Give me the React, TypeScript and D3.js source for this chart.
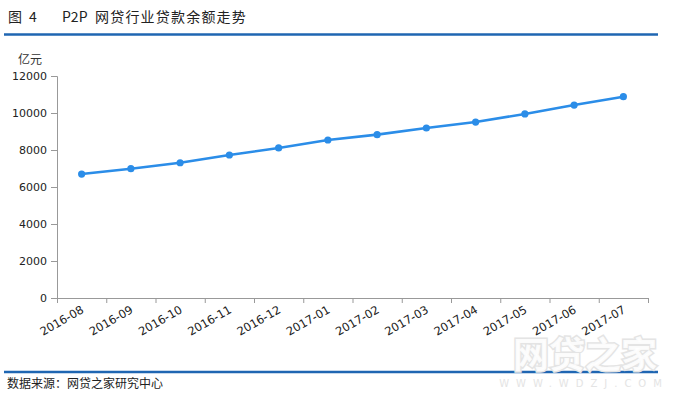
import React, { useEffect, useRef } from "react";
import * as d3 from "d3";

const months = [
  "2016-08", "2016-09", "2016-10", "2016-11", "2016-12", "2017-01",
  "2017-02", "2017-03", "2017-04", "2017-05", "2017-06", "2017-07",
];
const balance = [6700, 6990, 7310, 7730, 8110, 8540, 8830, 9190, 9510, 9950, 10430, 10880];
const yTicks = [0, 2000, 4000, 6000, 8000, 10000, 12000];

const W = 680;
const H = 398;
const plot = { left: 57, right: 648, top: 76, bottom: 298 };
const numFont = "'DejaVu Sans', Verdana, sans-serif";
const cjkFont = "'Noto Sans CJK SC', sans-serif";

const App = () => {
  const ref = useRef<SVGSVGElement | null>(null);

  useEffect(() => {
    const svg = d3.select(ref.current);
    svg.selectAll("*").remove();

    const x = d3.scaleBand().domain(months).range([plot.left, plot.right]);
    const y = d3.scaleLinear().domain([0, 12000]).range([plot.bottom, plot.top]);

    // header (pieces placed separately to keep the wide gaps)
    const title = svg.append("g")
      .attr("font-family", cjkFont).attr("font-size", 14).attr("fill", "#222");
    title.append("text").attr("x", 8).attr("y", 22).text("图");
    title.append("text").attr("x", 29).attr("y", 22).text("4");
    title.append("text").attr("x", 62).attr("y", 22).text("P2P");
    title.append("text").attr("x", 95).attr("y", 22).attr("letter-spacing", 1.2).text("网贷行业贷款余额走势");
    svg.append("line")
      .attr("x1", 4).attr("x2", 658).attr("y1", 34.5).attr("y2", 34.5)
      .attr("stroke", "#1f66b2").attr("stroke-width", 2.5);

    // unit
    svg.append("text")
      .attr("x", 42).attr("y", 64).attr("text-anchor", "end")
      .attr("font-family", cjkFont).attr("font-size", 12).attr("fill", "#333")
      .text("亿元");

    // y axis
    const yAxis = svg.append("g")
      .attr("transform", `translate(${plot.left},0)`)
      .call(d3.axisLeft(y).tickValues(yTicks).tickSize(6).tickPadding(4).tickFormat(d3.format("d")));
    yAxis.select(".domain").attr("stroke", "#999");
    yAxis.selectAll(".tick line").attr("stroke", "#999");
    yAxis.selectAll(".tick text")
      .attr("font-family", numFont).attr("font-size", 11).attr("fill", "#222");

    // x axis: ticks at band boundaries
    const bounds = months.map((m) => x(m) as number).concat([plot.right]);
    const xg = svg.append("g");
    xg.append("line")
      .attr("x1", plot.left).attr("x2", plot.right)
      .attr("y1", plot.bottom + 0.5).attr("y2", plot.bottom + 0.5)
      .attr("stroke", "#999");
    xg.selectAll("line.tk").data(bounds).enter().append("line")
      .attr("class", "tk")
      .attr("x1", (d) => d + 0.5).attr("x2", (d) => d + 0.5)
      .attr("y1", plot.bottom).attr("y2", plot.bottom + 5)
      .attr("stroke", "#999");
    xg.selectAll("text").data(months).enter().append("text")
      .attr("transform", (d) => `translate(${(x(d) as number) + x.bandwidth() / 2 + 3},${plot.bottom + 14}) rotate(-30)`)
      .attr("text-anchor", "end")
      .attr("font-family", numFont).attr("font-size", 11.5).attr("fill", "#222")
      .text((d) => d);

    // series
    const cx = (i: number) => (x(months[i]) as number) + x.bandwidth() / 2;
    const line = d3.line<number>().x((_, i) => cx(i)).y((d) => y(d));
    svg.append("path")
      .datum(balance)
      .attr("d", line)
      .attr("fill", "none").attr("stroke", "#2b8de8").attr("stroke-width", 2.6);
    svg.selectAll("circle.pt").data(balance).enter().append("circle")
      .attr("class", "pt")
      .attr("cx", (_, i) => cx(i)).attr("cy", (d) => y(d)).attr("r", 3.6)
      .attr("fill", "#2b8de8");

    // footer
    svg.append("line")
      .attr("x1", 4).attr("x2", 658).attr("y1", 372).attr("y2", 372)
      .attr("stroke", "#1f66b2").attr("stroke-width", 2.5);
    svg.append("text")
      .attr("x", 7).attr("y", 388)
      .attr("font-family", cjkFont).attr("font-size", 12).attr("fill", "#222")
      .text("数据来源：网贷之家研究中心");

    // watermark
    svg.append("text")
      .attr("x", 585).attr("y", 368).attr("text-anchor", "middle")
      .attr("font-family", cjkFont).attr("font-size", 36).attr("font-weight", "bold")
      .attr("fill", "#ffffff").attr("fill-opacity", 0.9)
      .attr("stroke", "#e4e4e4").attr("stroke-width", 3)
      .attr("paint-order", "stroke")
      .text("网贷之家");
    svg.append("text")
      .attr("x", 584).attr("y", 387).attr("text-anchor", "middle")
      .attr("font-family", numFont).attr("font-size", 10).attr("fill", "#e4e4e4")
      .attr("letter-spacing", 7)
      .text("WWW.WDZJ.COM");
  }, []);

  return (
    <div style={{ position: "fixed", left: 0, top: 0, width: W, height: H, background: "#fff" }}>
      <svg ref={ref} width={W} height={H} />
    </div>
  );
};

export default App;
